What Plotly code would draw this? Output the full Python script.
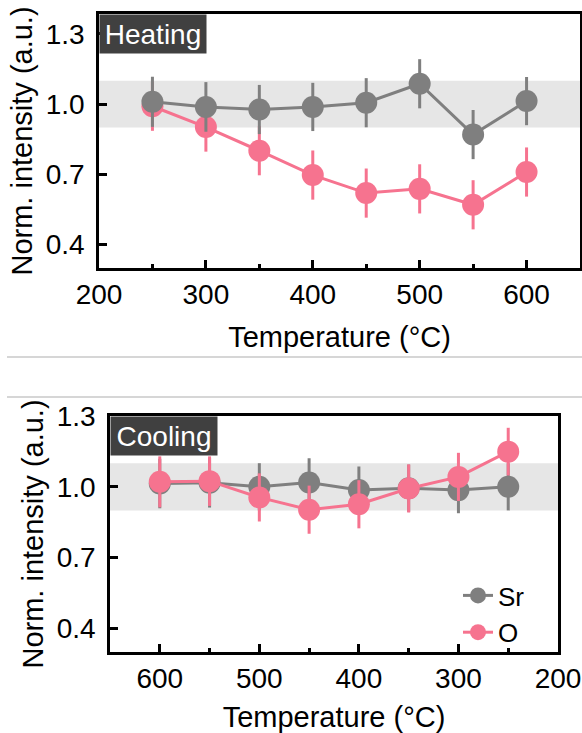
import plotly.graph_objects as go

# ---------------- data ----------------
heat_temp = [250, 300, 350, 400, 450, 500, 550, 600]
heat_sr = [1.010, 0.988, 0.977, 0.988, 1.006, 1.087, 0.870, 1.013]
heat_sr_err = [0.107, 0.106, 0.105, 0.103, 0.105, 0.105, 0.105, 0.103]
heat_o = [0.991, 0.902, 0.801, 0.697, 0.620, 0.638, 0.570, 0.710]
heat_o_err = [0.105, 0.105, 0.105, 0.105, 0.105, 0.105, 0.105, 0.105]

cool_temp = [600, 550, 500, 450, 400, 350, 300, 250]
cool_sr = [1.014, 1.017, 1.000, 1.018, 0.986, 0.994, 0.986, 1.000]
cool_sr_err = [0.105, 0.105, 0.100, 0.103, 0.100, 0.100, 0.098, 0.100]
cool_o = [1.021, 1.024, 0.955, 0.903, 0.926, 0.993, 1.042, 1.149]
cool_o_err = [0.108, 0.105, 0.102, 0.102, 0.102, 0.102, 0.102, 0.101]

band = [0.9, 1.1]
y_ticks = [0.4, 0.7, 1.0, 1.3]
y_ticktext = ["0.4", "0.7", "1.0", "1.3"]
x_ticks = [200, 300, 400, 500, 600]
x_ticktext = ["200", "300", "400", "500", "600"]
series_names = ["Sr", "O"]
panel_labels = ["Heating", "Cooling"]
x_title = "Temperature (°C)"
y_title = "Norm. intensity (a.u.)"

GRAY = "#7f7f7f"
PINK = "#f6738f"
FONT = "Liberation Sans, Arial, sans-serif"
FS_TICK = 28
FS_TITLE = 29
W, H = 582, 733

fig = go.Figure()


def add_series(x, y, err, color, name, xa, ya, show):
    fig.add_trace(go.Scatter(
        x=x, y=y, name=name, mode="lines+markers",
        xaxis=xa, yaxis=ya, showlegend=show,
        line=dict(color=color, width=3),
        marker=dict(color=color, size=22),
        error_y=dict(type="data", array=err, visible=True,
                     color=color, thickness=3, width=0),
    ))


# heating: O below, Sr on top
add_series(heat_temp, heat_o, heat_o_err, PINK, series_names[1], "x", "y", False)
add_series(heat_temp, heat_sr, heat_sr_err, GRAY, series_names[0], "x", "y", False)
# cooling: Sr below, O on top
add_series(cool_temp, cool_sr, cool_sr_err, GRAY, series_names[0], "x2", "y2", True)
add_series(cool_temp, cool_o, cool_o_err, PINK, series_names[1], "x2", "y2", True)

axis_common = dict(
    showline=True, linecolor="black", linewidth=2.5, mirror=True,
    showgrid=False, zeroline=False, automargin=False,
    ticks="inside", tickcolor="black", tickwidth=2.5,
    tickfont=dict(family=FONT, size=FS_TICK, color="black"),
)

xdef = dict(axis_common, tickvals=x_ticks, ticktext=x_ticktext, ticklen=8,
            minor=dict(ticks="inside", ticklen=4, tickwidth=2.5, tickcolor="black", dtick=50, tick0=200),
            title=dict(text=x_title, font=dict(family=FONT, size=FS_TITLE, color="black"), standoff=18),
            ticklabelstandoff=0)
ydef = dict(axis_common, tickvals=y_ticks, ticktext=y_ticktext, ticklen=8,
            title=dict(text=y_title, font=dict(family=FONT, size=FS_TITLE, color="black"), standoff=5),
            ticklabelstandoff=6)

fig.update_layout(
    width=W, height=H,
    margin=dict(l=0, r=0, t=0, b=0, autoexpand=False),
    paper_bgcolor="white", plot_bgcolor="white",
    font=dict(family=FONT, size=FS_TICK, color="black"),
    xaxis=dict(xdef, domain=[99 / W, 580 / W], range=[200, 650], anchor="y"),
    yaxis=dict(ydef, domain=[1 - 268 / H, 1 - 14 / H], range=[0.3, 1.385], anchor="x"),
    xaxis2=dict(xdef, domain=[110 / W, 558 / W], range=[650, 200], anchor="y2"),
    yaxis2=dict(ydef, domain=[1 - 652 / H, 1 - 416 / H], range=[0.3, 1.3], anchor="x2"),
    legend=dict(x=458 / W, y=1 - 572 / H, xanchor="left", yanchor="top",
                bgcolor="rgba(0,0,0,0)", font=dict(family=FONT, size=26, color="black"),
                tracegroupgap=0, itemwidth=30),
    showlegend=True,
)

# gray tolerance bands
for xr, yr in (("x domain", "y"), ("x2 domain", "y2")):
    fig.add_shape(type="rect", xref=xr, yref=yr, x0=0, x1=1, y0=band[0], y1=band[1],
                  fillcolor="#e6e6e6", line=dict(width=0), layer="below")

# separator lines between the panels
for yy in (357, 397):
    fig.add_shape(type="line", xref="paper", yref="paper", x0=7 / W, x1=1,
                  y0=1 - yy / H, y1=1 - yy / H, line=dict(color="#c8c8c8", width=1.5))

# panel labels
for lab, xr, yr in ((panel_labels[0], "x domain", "y domain"), (panel_labels[1], "x2 domain", "y2 domain")):
    fig.add_annotation(text=lab, xref=xr, yref=yr, x=0, y=1, xanchor="left", yanchor="top",
                       showarrow=False, bgcolor="#404040", borderpad=2, width=102, height=34,
                       font=dict(family=FONT, size=28, color="white"))

fig.write_html("out.html")
